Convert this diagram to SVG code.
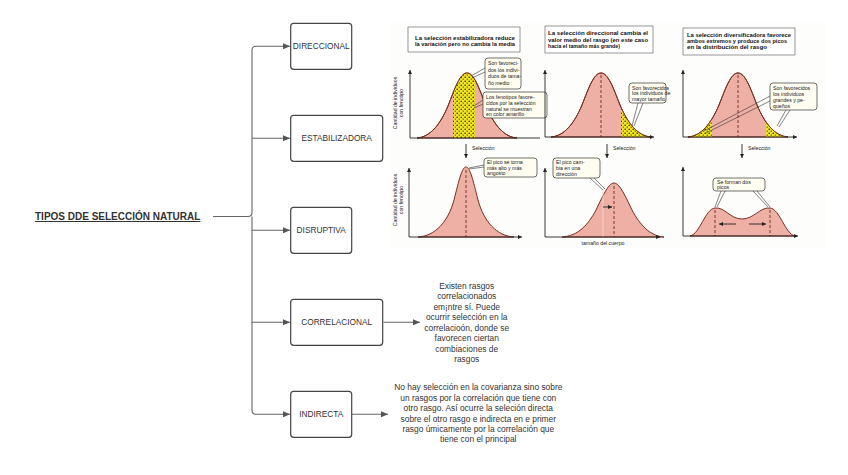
<svg xmlns="http://www.w3.org/2000/svg" width="848" height="475" viewBox="0 0 848 475">
<style>
.lbl{font-family:"Liberation Sans",Arial,sans-serif;font-size:8.3px;fill:#333;text-anchor:middle;dominant-baseline:central}
.box{fill:#fff;stroke:#444;stroke-width:1.2}
.desc{font-family:"Liberation Sans",Arial,sans-serif;font-size:8.4px;fill:#333;text-anchor:middle}
.con{fill:none;stroke:#666;stroke-width:1.1}
.tiny{font-family:"Liberation Sans",Arial,sans-serif;font-size:5.2px;fill:#222}
.hb{font-family:"Liberation Sans",Arial,sans-serif;font-size:5.6px;fill:#111;font-weight:bold}
.ax{stroke:#222;stroke-width:0.9;fill:none}
.pk{fill:#eeb0a4;stroke:#7a2d20;stroke-width:1}
.dsh{stroke:#5a1a12;stroke-width:0.8;stroke-dasharray:3,2}
.cb{fill:#fffdf0;stroke:#333;stroke-width:0.7}
.tb{fill:#fff;stroke:#555;stroke-width:0.6}
.ptr{stroke:#333;stroke-width:0.6;fill:none}
</style>
<defs>
<marker id="ah" markerWidth="7" markerHeight="6" refX="7" refY="3" orient="auto" markerUnits="userSpaceOnUse"><path d="M0,0 L7,3 L0,6 z" fill="#555"/></marker>
<marker id="sa" markerWidth="4" markerHeight="4" refX="4" refY="2" orient="auto" markerUnits="userSpaceOnUse"><path d="M0,0 L4,2 L0,4 z" fill="#222"/></marker>
<pattern id="dots" width="4" height="4" patternUnits="userSpaceOnUse"><rect width="4" height="4" fill="#f1e61c"/><circle cx="1.2" cy="1.2" r="0.75" fill="#111"/><circle cx="3.2" cy="3.1" r="0.6" fill="#111"/></pattern>
<clipPath id="c1"><path d="M417,138 C430,137 440,125 448,106 C455,88 460,73 467,73 C474,73 479,88 486,106 C494,125 504,137 517,138 Z"/></clipPath>
<clipPath id="c2"><path d="M551,137 C564,136 574,124 582,105 C589,87 594,73 601,73 C608,73 613,87 620,105 C628,124 638,136 651,137 Z"/></clipPath>
<clipPath id="c3"><path d="M688,137 C701,136 711,124 719,105 C726,87 731,73 738,73 C745,73 750,87 757,105 C765,124 775,136 788,137 Z"/></clipPath>
</defs>
<rect width="848" height="475" fill="#fff"/>

<g id="connectors">
<path class="con" d="M213,216.5 H248 Q252,216.5 252,212.5 V50.3 Q252,46.3 256,46.3 H290" marker-end="url(#ah)"/>
<path class="con" d="M252,138.3 H290" marker-end="url(#ah)"/>
<path class="con" d="M252,216.5 V230.3 H290" marker-end="url(#ah)"/>
<path class="con" d="M252,230 V322.3 H290" marker-end="url(#ah)"/>
<path class="con" d="M252,322 V410.3 Q252,414.3 256,414.3 H290" marker-end="url(#ah)"/>
<path class="con" d="M383.5,322.3 H420" marker-end="url(#ah)"/>
<path class="con" d="M352,414.3 H388" marker-end="url(#ah)"/>
</g>

<g id="title"><text x="35" y="220" font-family="'Liberation Sans',Arial,sans-serif" font-size="10px" font-weight="bold" fill="#333" text-decoration="underline">TIPOS DDE SELECCIÓN NATURAL</text></g>

<g id="direccional"><rect class="box" x="290.7" y="23.3" width="61" height="46" rx="3"/><text class="lbl" x="321.2" y="46.3">DIRECCIONAL</text></g>
<g id="estabilizadora"><rect class="box" x="290.7" y="115.3" width="92" height="46" rx="3"/><text class="lbl" x="336.7" y="138.3">ESTABILIZADORA</text></g>
<g id="disruptiva"><rect class="box" x="290.7" y="207.3" width="61" height="46" rx="3"/><text class="lbl" x="321.2" y="230.3">DISRUPTIVA</text></g>
<g id="correlacional"><rect class="box" x="290.7" y="299.3" width="92" height="46" rx="3"/><text class="lbl" x="336.7" y="322.3">CORRELACIONAL</text></g>
<g id="indirecta"><rect class="box" x="290.7" y="391.3" width="61" height="46" rx="3"/><text class="lbl" x="321.2" y="414.3">INDIRECTA</text></g>

<g id="desc-correlacional"><text class="desc" x="466.7" y="289">
<tspan x="466.7">Existen rasgos</tspan><tspan x="466.7" dy="10.45">correlacionados</tspan><tspan x="466.7" dy="10.45">em¡ntre sí. Puede</tspan><tspan x="466.7" dy="10.45">ocurrir selección en la</tspan><tspan x="466.7" dy="10.45">correlacioón, donde se</tspan><tspan x="466.7" dy="10.45">favorecen ciertan</tspan><tspan x="466.7" dy="10.45">combiaciones de</tspan><tspan x="466.7" dy="10.45">rasgos</tspan></text></g>

<g id="desc-indirecta"><text class="desc" x="478.3" y="390.3">
<tspan x="478.3">No hay selección en la covarianza sino sobre</tspan><tspan x="478.3" dy="10.4">un rasgos por la correlación que tiene con</tspan><tspan x="478.3" dy="10.4">otro rasgo. Así ocurre la seleción directa</tspan><tspan x="478.3" dy="10.4">sobre el otro rasgo e indirecta en e primer</tspan><tspan x="478.3" dy="10.4">rasgo úmicamente por la correlación que</tspan><tspan x="478.3" dy="10.4">tiene con el principal</tspan></text></g>

<g id="figure">
<rect x="390" y="22" width="436" height="225" fill="#fdfdfc"/>
<!-- header boxes -->
<rect class="tb" x="408" y="27" width="112" height="25"/>
<text class="hb" x="415" y="40" textLength="100" lengthAdjust="spacingAndGlyphs">La selección estabilizadora reduce</text>
<text class="hb" x="415" y="46" textLength="100" lengthAdjust="spacingAndGlyphs">la variación pero no cambia la media</text>
<rect class="tb" x="545" y="26" width="108" height="27"/>
<text class="hb" x="548" y="35" textLength="100" lengthAdjust="spacingAndGlyphs">La selección direccional cambia el</text>
<text class="hb" x="548" y="41.5" textLength="100" lengthAdjust="spacingAndGlyphs">valor medio del rasgo (en este caso</text>
<text class="hb" x="548" y="48" textLength="72" lengthAdjust="spacingAndGlyphs">hacia el tamaño más grande)</text>
<rect class="tb" x="683" y="28" width="112" height="27"/>
<text class="hb" x="687" y="37" textLength="104" lengthAdjust="spacingAndGlyphs">La selección diversificadora favorece</text>
<text class="hb" x="687" y="43" textLength="100" lengthAdjust="spacingAndGlyphs">ambos extremos y produce dos picos</text>
<text class="hb" x="687" y="49" textLength="80" lengthAdjust="spacingAndGlyphs">en la distribución del rasgo</text>

<!-- y labels -->
<text class="tiny" transform="translate(397,103) rotate(-90)" text-anchor="middle">Cantidad de individuos</text>
<text class="tiny" transform="translate(403,103) rotate(-90)" text-anchor="middle">con fenotipo</text>
<text class="tiny" transform="translate(397,200) rotate(-90)" text-anchor="middle">Cantidad de individuos</text>
<text class="tiny" transform="translate(403,200) rotate(-90)" text-anchor="middle">con fenotipo</text>

<!-- panel 1 top -->
<path class="pk" d="M417,138 C430,137 440,125 448,106 C455,88 460,73 467,73 C474,73 479,88 486,106 C494,125 504,137 517,138 Z"/>
<rect x="453" y="70" width="22" height="70" fill="url(#dots)" clip-path="url(#c1)"/>
<path d="M417,138 C430,137 440,125 448,106 C455,88 460,73 467,73 C474,73 479,88 486,106 C494,125 504,137 517,138" fill="none" stroke="#7a2d20" stroke-width="1"/>
<line class="ax" x1="410" y1="138" x2="410" y2="70" marker-end="url(#sa)"/>
<line class="ax" x1="410" y1="138" x2="540" y2="138"/>
<path class="ptr" d="M485,68 L471,76 M485,72 L472,78"/>
<rect class="cb" x="485" y="58" width="36" height="31" rx="3"/>
<text class="tiny" x="488" y="65">Son favoreci-</text><text class="tiny" x="488" y="71.5">dos los indivi-</text><text class="tiny" x="488" y="78">duos de tama-</text><text class="tiny" x="488" y="84.5">ño medio</text>
<path class="ptr" d="M483,100 L474,106 M483,104 L474,108"/>
<rect class="cb" x="483" y="92" width="64" height="26" rx="3"/>
<text class="tiny" x="486" y="98.5">Los fenotipos favore-</text><text class="tiny" x="486" y="104.5">cidos por la selección</text><text class="tiny" x="486" y="110.5">natural se muestran</text><text class="tiny" x="486" y="116">en color amarillo</text>
<line class="ax" x1="466" y1="144" x2="466" y2="158" marker-end="url(#sa)"/>
<text class="tiny" x="472" y="150">Selección</text>

<!-- panel 2 top -->
<path class="pk" d="M551,137 C564,136 574,124 582,105 C589,87 594,73 601,73 C608,73 613,87 620,105 C628,124 638,136 651,137 Z"/>
<rect x="621" y="70" width="32" height="70" fill="url(#dots)" clip-path="url(#c2)"/>
<path d="M551,137 C564,136 574,124 582,105 C589,87 594,73 601,73 C608,73 613,87 620,105 C628,124 638,136 651,137" fill="none" stroke="#7a2d20" stroke-width="1"/>
<line class="dsh" x1="601" y1="75" x2="601" y2="137"/>
<line class="ax" x1="545" y1="137" x2="545" y2="70" marker-end="url(#sa)"/>
<line class="ax" x1="545" y1="137" x2="654" y2="137" marker-end="url(#sa)"/>
<path class="ptr" d="M638,103 L632,126 M643,103 L634,126"/>
<rect class="cb" x="629" y="83" width="37" height="20" rx="3"/>
<text class="tiny" x="632" y="89.5">Son favorecidos</text><text class="tiny" x="632" y="95.3">los individuos de</text><text class="tiny" x="632" y="101">mayor tamaño</text>
<line class="ax" x1="607" y1="144" x2="607" y2="158" marker-end="url(#sa)"/>
<text class="tiny" x="613" y="150">Selección</text>

<!-- panel 3 top -->
<path class="pk" d="M688,137 C701,136 711,124 719,105 C726,87 731,73 738,73 C745,73 750,87 757,105 C765,124 775,136 788,137 Z"/>
<rect x="686" y="110" width="26" height="30" fill="url(#dots)" clip-path="url(#c3)"/>
<rect x="766" y="110" width="26" height="30" fill="url(#dots)" clip-path="url(#c3)"/>
<path d="M688,137 C701,136 711,124 719,105 C726,87 731,73 738,73 C745,73 750,87 757,105 C765,124 775,136 788,137" fill="none" stroke="#7a2d20" stroke-width="1"/>
<line class="dsh" x1="738" y1="75" x2="738" y2="137"/>
<line class="ax" x1="683" y1="137" x2="683" y2="70" marker-end="url(#sa)"/>
<line class="ax" x1="683" y1="137" x2="797" y2="137" marker-end="url(#sa)"/>
<path class="ptr" d="M772,95 L704,131 M774,99 L706,133 M786,110 L777,126 M790,110 L779,127"/>
<rect class="cb" x="770" y="83" width="47" height="27" rx="3"/>
<text class="tiny" x="773" y="89.5">Son favorecidos</text><text class="tiny" x="773" y="95.5">los individuos</text><text class="tiny" x="773" y="101.5">grandes y pe-</text><text class="tiny" x="773" y="107.5">queños</text>
<line class="ax" x1="742" y1="144" x2="742" y2="158" marker-end="url(#sa)"/>
<text class="tiny" x="748" y="150">Selección</text>

<!-- panel 1 bottom -->
<path class="pk" d="M418,237 C435,236 448,222 454,200 C459,180 462,167 466,167 C470,167 473,180 478,200 C484,222 497,236 514,237 Z"/>
<line class="dsh" x1="466" y1="170" x2="466" y2="237"/>
<line class="ax" x1="409" y1="237" x2="409" y2="168" marker-end="url(#sa)"/>
<line class="ax" x1="409" y1="237" x2="522" y2="237" marker-end="url(#sa)"/>
<path class="ptr" d="M484,165 L469,168 M484,167 L469,169"/>
<rect class="cb" x="484" y="158" width="53" height="19" rx="3"/>
<text class="tiny" x="487" y="164">El pico se torna</text><text class="tiny" x="487" y="169.5">más alto y más</text><text class="tiny" x="487" y="175">angosto</text>

<!-- panel 2 bottom -->
<path class="pk" d="M562,237 C578,236 588,225 596,210 C604,193 609,183 614,183 C619,183 624,193 632,210 C640,225 650,236 664,237 Z"/>
<line x1="603" y1="190" x2="603" y2="237" stroke="#f7d6cf" stroke-width="0.8"/>
<line class="dsh" x1="614" y1="186" x2="614" y2="237"/>
<line class="ax" x1="603" y1="207" x2="612" y2="207" marker-end="url(#sa)"/>
<line class="ax" x1="545" y1="237" x2="545" y2="168" marker-end="url(#sa)"/>
<line class="ax" x1="545" y1="237" x2="660" y2="237" marker-end="url(#sa)"/>
<path class="ptr" d="M590,178 L603,190 M594,178 L605,189"/>
<rect class="cb" x="553" y="158" width="47" height="20" rx="3"/>
<text class="tiny" x="556" y="164">El pico cam-</text><text class="tiny" x="556" y="170">bia en una</text><text class="tiny" x="556" y="176">dirección</text>
<text class="tiny" x="603" y="245" text-anchor="middle">tamaño del cuerpo</text>

<!-- panel 3 bottom -->
<path class="pk" d="M690,236 C700,234 705,209 715,208 C725,207 730,219 742,219 C754,219 760,207 770,208 C780,209 785,234 795,236 Z"/>
<line class="dsh" x1="715" y1="210" x2="715" y2="236"/>
<line class="dsh" x1="770" y1="210" x2="770" y2="236"/>
<line class="ax" x1="736" y1="224" x2="719" y2="224" marker-end="url(#sa)"/>
<line class="ax" x1="749" y1="224" x2="766" y2="224" marker-end="url(#sa)"/>
<line class="ax" x1="683" y1="236" x2="683" y2="167" marker-end="url(#sa)"/>
<line class="ax" x1="683" y1="236" x2="798" y2="236" marker-end="url(#sa)"/>
<path class="ptr" d="M721,191 L715,207 M725,191 L717,207 M753,191 L768,207 M757,191 L770,207"/>
<rect class="cb" x="713" y="178" width="52" height="13" rx="3"/>
<text class="tiny" x="717" y="183.5">Se forman dos</text><text class="tiny" x="717" y="189">picos</text>
</g>
</svg>
